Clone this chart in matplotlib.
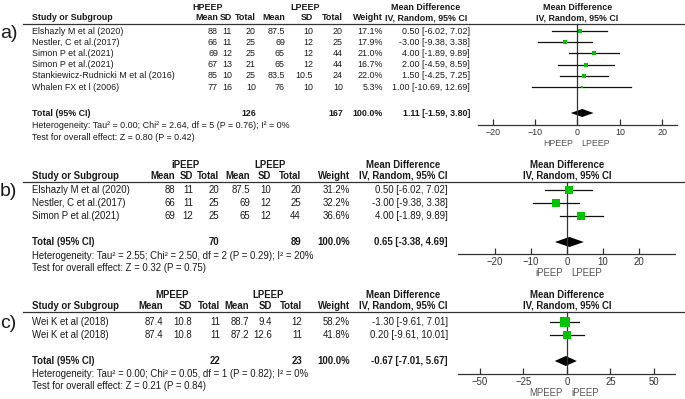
import numpy as np
import matplotlib.pyplot as plt

plt.rcParams["font.family"] = ["Liberation Sans", "DejaVu Sans"]

W, H = 685, 399
TXT = "#1a1a1a"
AXC = "#333333"
GREEN = "#00c400"

# ---- a) HPEEP vs LPEEP ----
a_study = ["Elshazly M et al (2020)", "Nestler, C et al.(2017)", "Simon P et al.(2021)",
           "Simon P et al.(2021)", "Stankiewicz-Rudnicki M et al (2016)", "Whalen FX et l (2006)"]
a_m1 = ["88", "66", "69", "67", "85", "77"]
a_sd1 = ["11", "11", "12", "13", "10", "16"]
a_n1 = [20, 25, 25, 21, 25, 10]
a_m2 = ["87.5", "69", "65", "65", "83.5", "76"]
a_sd2 = ["10", "12", "12", "12", "10.5", "10"]
a_n2 = [20, 25, 44, 44, 24, 10]
a_weight = [17.1, 17.9, 21.0, 16.7, 22.0, 5.3]
a_md = [0.50, -3.00, 4.00, 2.00, 1.50, 1.00]
a_lo = [-6.02, -9.38, -1.89, -4.59, -4.25, -10.69]
a_hi = [7.02, 3.38, 9.89, 8.59, 7.25, 12.69]
a_tot_n = [126, 167]
a_pool = [1.11, -1.59, 3.80]
a_het = "Heterogeneity: Tau\u00b2 = 0.00; Chi\u00b2 = 2.64, df = 5 (P = 0.76); I\u00b2 = 0%"
a_z = "Test for overall effect: Z = 0.80 (P = 0.42)"
a_groups = ["HPEEP", "LPEEP"]
a_ticks = [-20, -10, 0, 10, 20]

# ---- b) iPEEP vs LPEEP ----
b_study = ["Elshazly M et al (2020)", "Nestler, C et al.(2017)", "Simon P et al.(2021)"]
b_m1 = ["88", "66", "69"]
b_sd1 = ["11", "11", "12"]
b_n1 = [20, 25, 25]
b_m2 = ["87.5", "69", "65"]
b_sd2 = ["10", "12", "12"]
b_n2 = [20, 25, 44]
b_weight = [31.2, 32.2, 36.6]
b_md = [0.50, -3.00, 4.00]
b_lo = [-6.02, -9.38, -1.89]
b_hi = [7.02, 3.38, 9.89]
b_tot_n = [70, 89]
b_pool = [0.65, -3.38, 4.69]
b_het = "Heterogeneity: Tau\u00b2 = 2.55; Chi\u00b2 = 2.50, df = 2 (P = 0.29); I\u00b2 = 20%"
b_z = "Test for overall effect: Z = 0.32 (P = 0.75)"
b_groups = ["iPEEP", "LPEEP"]
b_ticks = [-20, -10, 0, 10, 20]

# ---- c) MPEEP vs LPEEP ----
c_study = ["Wei K et al (2018)", "Wei K et al (2018)"]
c_m1 = ["87.4", "87.4"]
c_sd1 = ["10.8", "10.8"]
c_n1 = [11, 11]
c_m2 = ["88.7", "87.2"]
c_sd2 = ["9.4", "12.6"]
c_n2 = [12, 11]
c_weight = [58.2, 41.8]
c_md = [-1.30, 0.20]
c_lo = [-9.61, -9.61]
c_hi = [7.01, 10.01]
c_tot_n = [22, 23]
c_pool = [-0.67, -7.01, 5.67]
c_het = "Heterogeneity: Tau\u00b2 = 0.00; Chi\u00b2 = 0.05, df = 1 (P = 0.82); I\u00b2 = 0%"
c_z = "Test for overall effect: Z = 0.21 (P = 0.84)"
c_groups = ["MPEEP", "LPEEP"]
c_ticks = [-50, -25, 0, 25, 50]
c_favours = ["MPEEP", "iPEEP"]


def ci_text(m, lo, hi):
    return "%.2f [%.2f, %.2f]" % (m, lo, hi)


fig = plt.figure(figsize=(W / 100, H / 100), dpi=100)
bg = fig.add_axes([0, 0, 1, 1])
bg.set_xlim(0, W)
bg.set_ylim(H, 0)
bg.axis("off")


def panel(lay, study, m1, sd1, n1, m2, sd2, n2, weight, md, lo, hi,
          tot_n, pool, het, ztxt, groups, ticks, favours):
    fs = lay["fs"]
    c = lay["cols"]
    kw = dict(fontsize=fs, color=TXT, va="center")
    bkw = dict(kw, fontweight="bold")

    bg.text(0, lay["label_y"], lay["label"], fontsize=14, color=TXT, va="center")

    # header
    bg.text(lay["grp"][0], lay["top"], groups[0], ha="center", **bkw)
    bg.text(lay["grp"][1], lay["top"], groups[1], ha="center", **bkw)
    bg.text(lay["mdc"], lay["top"], "Mean Difference", ha="center", **bkw)
    bg.text(lay["mdc"], lay["hdr"], "IV, Random, 95% CI", ha="center", **bkw)
    bg.text(32, lay["hdr"], "Study or Subgroup", ha="left", **bkw)
    for x, s in zip(c, ["Mean", "SD", "Total", "Mean", "SD", "Total", "Weight"]):
        bg.text(x, lay["hdr"], s, ha="right", **bkw)
    bg.plot([23, W], [lay["rule"], lay["rule"]], color=AXC, lw=0.9)

    # study rows
    ys = [lay["row0"] + i * lay["step"] for i in range(len(study))]
    for i, y in enumerate(ys):
        bg.text(32, y, study[i], ha="left", **kw)
        vals = [m1[i], sd1[i], str(n1[i]), m2[i], sd2[i], str(n2[i]), "%.1f%%" % weight[i]]
        for x, s in zip(c, vals):
            bg.text(x, y, s, ha="right", **kw)
        bg.text(lay["ci_r"], y, ci_text(md[i], lo[i], hi[i]), ha="right", **kw)

    # totals
    yt = lay["total"]
    bg.text(32, yt, "Total (95% CI)", ha="left", **bkw)
    bg.text(c[2], yt, str(tot_n[0]), ha="right", **bkw)
    bg.text(c[5], yt, str(tot_n[1]), ha="right", **bkw)
    bg.text(c[6], yt, "100.0%", ha="right", **bkw)
    bg.text(lay["ci_r"], yt, ci_text(*pool), ha="right", **bkw)
    bg.text(32, lay["het"], het, ha="left", **kw)
    bg.text(32, lay["test"], ztxt, ha="left", **kw)

    # forest plot
    x0, x1 = lay["fx"]
    fa = fig.add_axes([x0 / W, 0, (x1 - x0) / W, 1])
    fa.patch.set_alpha(0)
    fa.set_xlim(*lay["xlim"])
    fa.set_ylim(H, 0)
    for s in ["top", "left", "right"]:
        fa.spines[s].set_visible(False)
    fa.spines["bottom"].set_position(("data", lay["axis"]))
    fa.spines["bottom"].set_color(AXC)
    fa.spines["bottom"].set_linewidth(0.9)
    fa.set_yticks([])
    fa.set_xticks(ticks)
    fa.tick_params(axis="x", direction="in", length=4, width=0.9, color=AXC,
                   labelsize=fs, labelcolor="#333333", pad=2.5)

    fa.plot([0, 0], [lay["rule"], lay["axis"]], color=AXC, lw=0.9)
    fa.text(0, lay["top"], "Mean Difference", ha="center", **bkw)
    fa.text(0, lay["hdr"], "IV, Random, 95% CI", ha="center", **bkw)

    for i, y in enumerate(ys):
        fa.plot([lo[i], hi[i]], [y, y], color="#111111", lw=0.9)
        side = lay["sq"] * np.sqrt(weight[i]) * 0.72
        fa.plot(md[i], y, marker="s", ms=side, color=GREEN, mec=GREEN, mew=0)

    d = lay["dh"]
    fa.fill([pool[1], pool[0], pool[2], pool[0]], [yt, yt - d, yt, yt + d],
            color="black", lw=0)

    yl = lay["axis"] + lay["fav"]
    fa.annotate(favours[0], (0, yl), xytext=(-3, 0), textcoords="offset points",
                ha="right", va="center", fontsize=fs, color="#555555")
    fa.annotate(favours[1], (0, yl), xytext=(3, 0), textcoords="offset points",
                ha="left", va="center", fontsize=fs, color="#555555")


LAY_A = dict(label="a)", label_y=34, fs=6.4, top=7, hdr=18, rule=24, row0=31, step=11.2,
             total=113, het=126, test=138, axis=125, fav=19,
             cols=[218, 232, 256, 285, 313, 343, 383], grp=[208, 305], mdc=426, ci_r=470,
             fx=(478, 677), xlim=(-23.5, 23.5), sq=1.05, dh=4)
LAY_B = dict(label="b)", label_y=192, fs=6.9, top=165, hdr=176, rule=182, row0=190, step=13,
             total=242, het=256, test=268, axis=254, fav=19,
             cols=[175, 193, 219, 250, 271, 301, 350], grp=[186, 270], mdc=403, ci_r=448,
             fx=(458, 675), xlim=(-30.3, 30.0), sq=1.3, dh=5)
LAY_C = dict(label="c)", label_y=324, fs=6.9, top=295, hdr=306, rule=312, row0=322, step=13,
             total=361, het=374, test=386, axis=374, fav=19,
             cols=[163, 192, 220, 249, 272, 302, 350], grp=[172, 268], mdc=403, ci_r=448,
             fx=(458, 675), xlim=(-62.6, 62.1), sq=1.3, dh=5)

panel(LAY_A, a_study, a_m1, a_sd1, a_n1, a_m2, a_sd2, a_n2, a_weight, a_md, a_lo, a_hi,
      a_tot_n, a_pool, a_het, a_z, a_groups, a_ticks, a_groups)
panel(LAY_B, b_study, b_m1, b_sd1, b_n1, b_m2, b_sd2, b_n2, b_weight, b_md, b_lo, b_hi,
      b_tot_n, b_pool, b_het, b_z, b_groups, b_ticks, b_groups)
panel(LAY_C, c_study, c_m1, c_sd1, c_n1, c_m2, c_sd2, c_n2, c_weight, c_md, c_lo, c_hi,
      c_tot_n, c_pool, c_het, c_z, c_groups, c_ticks, c_favours)

fig.savefig("out.png", dpi=100, facecolor="white")
